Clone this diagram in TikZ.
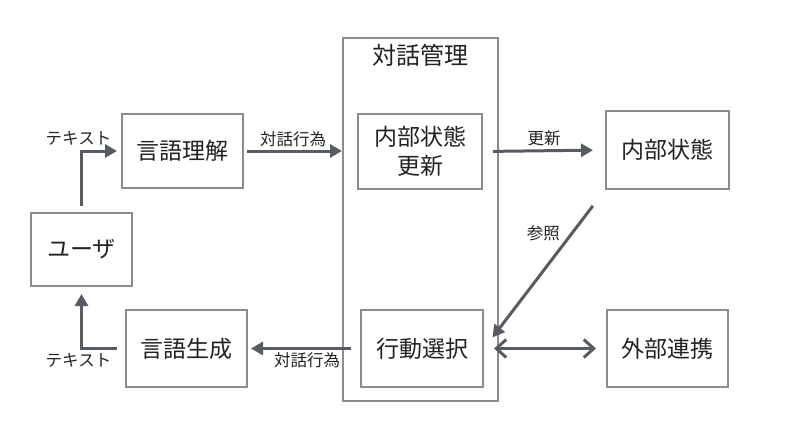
\documentclass[tikz,border=0pt]{standalone}
\usepackage{fontspec}
\setmainfont{Noto Sans CJK JP}
\usepackage{tikz}
\usetikzlibrary{arrows.meta}
\definecolor{linegray}{HTML}{575B63}
\definecolor{boxgray}{HTML}{8C8C8C}
\definecolor{txtgray}{HTML}{222222}
\begin{document}
\begin{tikzpicture}[x=1pt,y=-1pt,
	box/.style={draw=boxgray,line width=2pt,fill=white,text=txtgray,font=\fontsize{23}{29}\selectfont,align=center,inner sep=0pt},
	flow/.style={draw=linegray,line width=3pt,-{Triangle[length=12pt,width=13pt]}},
	both/.style={draw=linegray,line width=3pt,{Straight Barb[length=10pt,width=18pt]}-{Straight Barb[length=10pt,width=18pt]}},
	lbl/.style={text=txtgray,font=\fontsize{16.5}{19}\selectfont,inner sep=3pt}]
	\useasboundingbox (0,0) rectangle (787,426);
	\node[box,minimum width=155pt,minimum height=363pt] (dm) at (420.5,219.5) {};
	\node[text=txtgray,font=\fontsize{24}{29}\selectfont] (dmtitle) at (420.5,55) {対話管理};
	\node[box,minimum width=101pt,minimum height=73pt] (user) at (81.5,249.5) {ユーザ};
	\node[box,minimum width=121pt,minimum height=74pt] (nlu) at (182.5,151) {言語理解};
	\node[box,minimum width=121pt,minimum height=77pt] (nlg) at (186.5,348.5) {言語生成};
	\node[box,minimum width=124pt,minimum height=75pt] (upd) at (420,151.5) {内部状態\\更新};
	\node[box,minimum width=122pt,minimum height=77pt] (act) at (422,348.5) {行動選択};
	\node[box,minimum width=123pt,minimum height=78pt] (state) at (667.5,150) {内部状態};
	\node[box,minimum width=121pt,minimum height=77pt] (ext) at (667.5,348.5) {外部連携};
	\draw[flow,shorten <=6pt,shorten >=4pt] (user.north) |- node[lbl,above,pos=0.5,xshift=-3pt,yshift=1pt] {テキスト} (nlu.west);
	\draw[flow,shorten <=8pt,shorten >=7pt] (nlg.west) -| node[lbl,below,pos=0.5,xshift=-3pt] {テキスト} (user.south);
	\draw[flow,shorten <=3pt] (nlu.east) -- node[lbl,above] {対話行為} (nlu.east -| dm.west);
	\draw[flow,shorten <=9pt,shorten >=3pt] (act.west) -- node[lbl,below,xshift=3pt] {対話行為} (nlg.east);
	\draw[flow,shorten <=10pt,shorten >=12pt] (upd.east) -- node[lbl,above] {更新} (state.west);
	\draw[flow,shorten <=20pt,shorten >=14pt] (state.south west) -- node[lbl,left,pos=0.27,xshift=-8pt] {参照} (act.east);
	\draw[both,shorten <=10pt,shorten >=10pt] (act.east) -- (ext.west);
\end{tikzpicture}
\end{document}
